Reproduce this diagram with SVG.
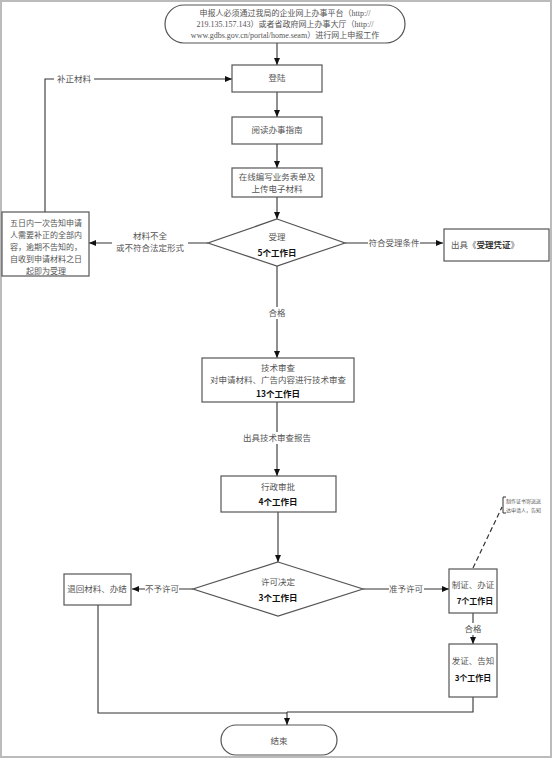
<svg xmlns="http://www.w3.org/2000/svg" width="554" height="760" viewBox="0 0 554 760">
<style>
.t{font-family:"Liberation Serif","Noto Sans CJK SC",serif;font-size:8.5px;fill:#555;text-anchor:middle}
.b{font-family:"Noto Sans CJK SC",sans-serif;font-size:8.5px;font-weight:bold;fill:#111;text-anchor:middle}
.s{font-family:"Liberation Serif","Noto Sans CJK SC",serif;font-size:5px;fill:#555}
.n{fill:#fff;stroke:#555;stroke-width:1.2}
.c{fill:none;stroke:#333;stroke-width:1.1}
</style>
<defs>
<marker id="a" markerWidth="8" markerHeight="8" refX="7" refY="4" orient="auto" markerUnits="userSpaceOnUse">
<path d="M0,1 L7,4 L0,7 Z" fill="#111"/>
</marker>
</defs>
<rect x="0" y="0" width="554" height="760" fill="#fff"/>
<rect x="1" y="1" width="550" height="756" fill="none" stroke="#bbb" stroke-width="2"/>
<g id="connectors">
<path class="c" d="M277,43 V65" marker-end="url(#a)"/>
<path class="c" d="M277,92 V117" marker-end="url(#a)"/>
<path class="c" d="M277,144 V168" marker-end="url(#a)"/>
<path class="c" d="M277,197 V219" marker-end="url(#a)"/>
<path class="c" d="M208,243 H89" marker-end="url(#a)"/>
<path class="c" d="M45,212 V79 H232" marker-end="url(#a)"/>
<path class="c" d="M345,243 H443" marker-end="url(#a)"/>
<path class="c" d="M277,266 V358" marker-end="url(#a)"/>
<path class="c" d="M277,402 V476" marker-end="url(#a)"/>
<path class="c" d="M278,512 V562" marker-end="url(#a)"/>
<path class="c" d="M193,589 H132" marker-end="url(#a)"/>
<path class="c" d="M363,589 H449" marker-end="url(#a)"/>
<path class="c" d="M473,613 V644" marker-end="url(#a)"/>
<path class="c" d="M98,605 V713 H287"/>
<path class="c" d="M473,697 V712 H287"/>
<path class="c" d="M287,712 V725" marker-end="url(#a)"/>
<path d="M473,568 L502,507" fill="none" stroke="#333" stroke-width="1.2" stroke-dasharray="5,3"/>
<path d="M506,497 H503 V513 H506" fill="none" stroke="#333" stroke-width="1"/>
<rect x="54" y="73" width="40" height="11" fill="#fff"/>
<text class="t" x="74" y="82">补正材料</text>
<rect x="112" y="230" width="76" height="24" fill="#fff"/>
<text class="t" x="150" y="239">材料不全</text>
<text class="t" x="150" y="251">或不符合法定形式</text>
<rect x="368" y="237" width="52" height="12" fill="#fff"/>
<text class="t" x="394" y="246">符合受理条件</text>
<rect x="265" y="307" width="24" height="12" fill="#fff"/>
<text class="t" x="277" y="316">合格</text>
<rect x="242" y="432" width="70" height="12" fill="#fff"/>
<text class="t" x="277" y="441">出具技术审查报告</text>
<rect x="145" y="583" width="34" height="12" fill="#fff"/>
<text class="t" x="162" y="592">不予许可</text>
<rect x="389" y="583" width="35" height="12" fill="#fff"/>
<text class="t" x="406" y="592">准予许可</text>
<rect x="461" y="623" width="24" height="12" fill="#fff"/>
<text class="t" x="473" y="632">合格</text>
<text class="s" x="506" y="503">制作证书寄送送</text>
<text class="s" x="506" y="512">达申请人，告知</text>
</g>
<g id="start">
<rect class="n" x="165" y="5" width="240" height="38" rx="19"/>
<text class="t" x="285" y="16" style="font-size:8px">申报人必须通过我局的企业网上办事平台（http://</text>
<text class="t" x="285" y="27" style="font-size:8px">219.135.157.143）或者省政府网上办事大厅（http://</text>
<text class="t" x="285" y="38" style="font-size:8px">www.gdbs.gov.cn/portal/home.seam）进行网上申报工作</text>
</g>
<g id="login">
<rect class="n" x="232" y="65" width="90" height="27"/>
<text class="t" x="277" y="81">登陆</text>
</g>
<g id="guide">
<rect class="n" x="232" y="117" width="90" height="27"/>
<text class="t" x="277" y="133">阅读办事指南</text>
</g>
<g id="fill">
<rect class="n" x="232" y="168" width="90" height="29"/>
<text class="t" x="277" y="180">在线编写业务表单及</text>
<text class="t" x="277" y="192">上传电子材料</text>
</g>
<g id="accept">
<polygon class="n" points="277,219 345,243 277,266 208,243"/>
<text class="t" x="277" y="240">受理</text>
<text class="b" x="277" y="256">5个工作日</text>
</g>
<g id="notify">
<rect class="n" x="2" y="212" width="87" height="64"/>
<text class="t" x="46" y="226" style="font-size:8px">五日内一次告知申请</text>
<text class="t" x="46" y="238" style="font-size:8px">人需要补正的全部内</text>
<text class="t" x="46" y="250" style="font-size:8px">容，逾期不告知的，</text>
<text class="t" x="46" y="262" style="font-size:8px">自收到申请材料之日</text>
<text class="t" x="46" y="274" style="font-size:8px">起即为受理</text>
</g>
<g id="receipt">
<rect class="n" x="444" y="229" width="105" height="32"/>
<text class="t" x="451" y="248" style="text-anchor:start">出具《<tspan style="font-family:'Noto Sans CJK SC',sans-serif;font-weight:bold;fill:#333">受理凭证</tspan>》</text>
</g>
<g id="tech">
<rect class="n" x="202" y="358" width="152" height="44"/>
<text class="t" x="278" y="371">技术审查</text>
<text class="t" x="278" y="383">对申请材料、广告内容进行技术审查</text>
<text class="b" x="278" y="397">13个工作日</text>
</g>
<g id="admin">
<rect class="n" x="221" y="476" width="115" height="36"/>
<text class="t" x="278" y="490">行政审批</text>
<text class="b" x="278" y="505">4个工作日</text>
</g>
<g id="decide">
<polygon class="n" points="278,562 363,589 278,616 193,589"/>
<text class="t" x="278" y="585">许可决定</text>
<text class="b" x="278" y="601">3个工作日</text>
</g>
<g id="return">
<rect class="n" x="64" y="574" width="67" height="31"/>
<text class="t" x="97" y="592">退回材料、办结</text>
</g>
<g id="make">
<rect class="n" x="449" y="569" width="48" height="44"/>
<text class="t" x="473" y="588">制证、办证</text>
<text class="b" x="475" y="604" style="font-size:8px">7个工作日</text>
</g>
<g id="issue">
<rect class="n" x="449" y="644" width="48" height="53"/>
<text class="t" x="473" y="664">发证、告知</text>
<text class="b" x="473" y="681" style="font-size:8px">3个工作日</text>
</g>
<g id="end">
<rect class="n" x="221" y="725" width="116" height="30" rx="15"/>
<text class="t" x="279" y="744">结束</text>
</g>
</svg>
